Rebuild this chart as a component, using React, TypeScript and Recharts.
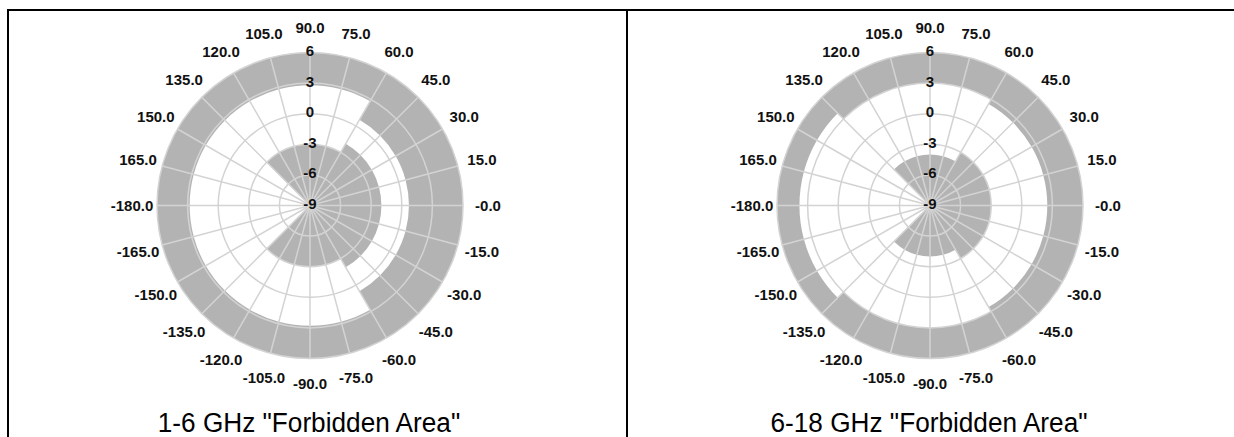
import React from 'react';
import { RadialBarChart, RadialBar, PolarGrid, PolarAngleAxis, PolarRadiusAxis } from 'recharts';

// ---- axes ----
const angleTicks = [-180, -165, -150, -135, -120, -105, -90, -75, -60, -45, -30, -15, 0, 15, 30, 45, 60, 75, 90, 105, 120, 135, 150, 165];
const angleTickLabels = ['-180.0', '-165.0', '-150.0', '-135.0', '-120.0', '-105.0', '-90.0', '-75.0', '-60.0', '-45.0', '-30.0', '-15.0', '-0.0', '15.0', '30.0', '45.0', '60.0', '75.0', '90.0', '105.0', '120.0', '135.0', '150.0', '165.0'];
const radiusTicks = [-9, -6, -3, 0, 3, 6];
const radiusTickLabels = ['-9', '-6', '-3', '0', '3', '6'];
const RADIUS_MIN = -9;
const RADIUS_MAX = 6;

// centre angle of each 15-degree sector
const sectorAngles = [-172.5, -157.5, -142.5, -127.5, -112.5, -97.5, -82.5, -67.5, -52.5, -37.5, -22.5, -7.5, 7.5, 22.5, 37.5, 52.5, 67.5, 82.5, 97.5, 112.5, 127.5, 142.5, 157.5, 172.5];

// ---- 1-6 GHz ----
const lowCore = [-9, -9, -9, -3, -3, -3, -3, -3, -2, -2, -2, -2, -2, -2, -2, -2, -3, -3, -3, -3, -3, -9, -9, -9];
const lowRingStart = [2.8, 2.8, 2.8, 2.8, 2.8, 2.8, 2.8, 2.8, 0.7, 0.7, 0.7, 0.7, 0.7, 0.7, 0.7, 0.7, 2.8, 2.8, 2.8, 2.8, 2.8, 2.8, 2.8, 2.8];
const lowRingEnd = [6, 6, 6, 6, 6, 6, 6, 6, 6, 6, 6, 6, 6, 6, 6, 6, 6, 6, 6, 6, 6, 6, 6, 6];

// ---- 6-18 GHz ----
const highCore = [-9, -9, -9, -4, -4, -4, -4, -4, -3, -3, -3, -3, -3, -3, -3, -3, -4, -4, -4, -4, -4, -9, -9, -9];
const highRingStart = [3.8, 3.8, 3.8, 3, 3, 3, 3, 3, 2.5, 2.5, 2.5, 2.5, 2.5, 2.5, 2.5, 2.5, 3, 3, 3, 3, 3, 3.8, 3.8, 3.8];
const highRingEnd = [6, 6, 6, 6, 6, 6, 6, 6, 6, 6, 6, 6, 6, 6, 6, 6, 6, 6, 6, 6, 6, 6, 6, 6];

const titles = ['1-6 GHz "Forbidden Area"', '6-18 GHz "Forbidden Area"'];

const GRAY = '#b3b3b3';
const GRID = '#d3d3d3';
const FONT = '"Liberation Sans", Arial, Helvetica, sans-serif';

const buildRows = (core: number[], ringStart: number[], ringEnd: number[]) =>
  sectorAngles.map((angle, i) => ({
    angle,
    core: core[i] - RADIUS_MIN,
    gap: ringStart[i] - core[i],
    ring: ringEnd[i] - ringStart[i],
  }));

const shiftedRadiusTicks = radiusTicks.map((t) => t - RADIUS_MIN);

const AngleTick = (props: any) => {
  const { x, y, payload } = props;
  const idx = angleTicks.indexOf(payload.value);
  return (
    <text x={x} y={y} textAnchor="middle" dominantBaseline="central" fontFamily={FONT} fontWeight="bold" fontSize={15} fill="#111">
      {idx >= 0 ? angleTickLabels[idx] : ''}
    </text>
  );
};

const RadiusTick = (props: any) => {
  const { x, y, payload } = props;
  const idx = shiftedRadiusTicks.indexOf(payload.value);
  return (
    <text x={x} y={y - 2} textAnchor="middle" dominantBaseline="central" fontFamily={FONT} fontWeight="bold" fontSize={15} fill="#111">
      {idx >= 0 ? radiusTickLabels[idx] : ''}
    </text>
  );
};

const Polar = ({ rows }: { rows: any[] }) => (
  <RadialBarChart
    width={600}
    height={437}
    data={rows}
    cx={300}
    cy={205.5}
    innerRadius={0}
    outerRadius={153}
    startAngle={-180}
    endAngle={180}
    layout="centric"
    barCategoryGap={0}
    barGap={0}
    margin={{ top: 0, right: 0, bottom: 0, left: 0 }}
  >
    <RadialBar dataKey="core" stackId="s" fill={GRAY} stroke="none" isAnimationActive={false} />
    <RadialBar dataKey="gap" stackId="s" fill="none" stroke="none" isAnimationActive={false} />
    <RadialBar dataKey="ring" stackId="s" fill={GRAY} stroke="none" isAnimationActive={false} />
    <PolarGrid gridType="circle" stroke={GRID} strokeWidth={1.5} zIndex={400} />
    <PolarAngleAxis
      type="number"
      dataKey="angle"
      domain={[-180, 180]}
      ticks={angleTicks}
      axisLine={false}
      tickLine={false}
      tickSize={25}
      tick={(p: any) => <AngleTick {...p} />}
      allowDataOverflow
    />
    <PolarRadiusAxis
      type="number"
      domain={[0, RADIUS_MAX - RADIUS_MIN]}
      ticks={shiftedRadiusTicks}
      angle={90}
      orientation="middle"
      axisLine={false}
      tickLine={false}
      tick={(p: any) => <RadiusTick {...p} />}
    />
  </RadialBarChart>
);

const lowRows = buildRows(lowCore, lowRingStart, lowRingEnd);
const highRows = buildRows(highCore, highRingStart, highRingEnd);

const titleStyle = (left: number): React.CSSProperties => ({
  position: 'absolute',
  left,
  top: 410,
  width: 400,
  height: 27,
  textAlign: 'center',
  fontFamily: FONT,
  fontSize: 27,
  lineHeight: '27px',
  color: '#000',
  whiteSpace: 'nowrap',
  transform: 'scaleX(0.97)',
  transformOrigin: 'center',
});

export default function App() {
  const line = (style: React.CSSProperties) => (
    <div style={{ position: 'absolute', background: '#000', ...style }} />
  );
  return (
    <div style={{ position: 'absolute', left: 0, top: 0, width: 1234, height: 437, overflow: 'hidden', background: '#fff' }}>
      {line({ left: 7, top: 9, width: 1227, height: 2 })}
      {line({ left: 7, top: 9, width: 2, height: 428 })}
      {line({ left: 626, top: 9, width: 2, height: 428 })}
      <div style={{ position: 'absolute', left: 10, top: 0 }}>
        <Polar rows={lowRows} />
      </div>
      <div style={{ position: 'absolute', left: 630, top: 0 }}>
        <Polar rows={highRows} />
      </div>
      <div style={titleStyle(109)}>{titles[0]}</div>
      <div style={titleStyle(729)}>{titles[1]}</div>
    </div>
  );
}
